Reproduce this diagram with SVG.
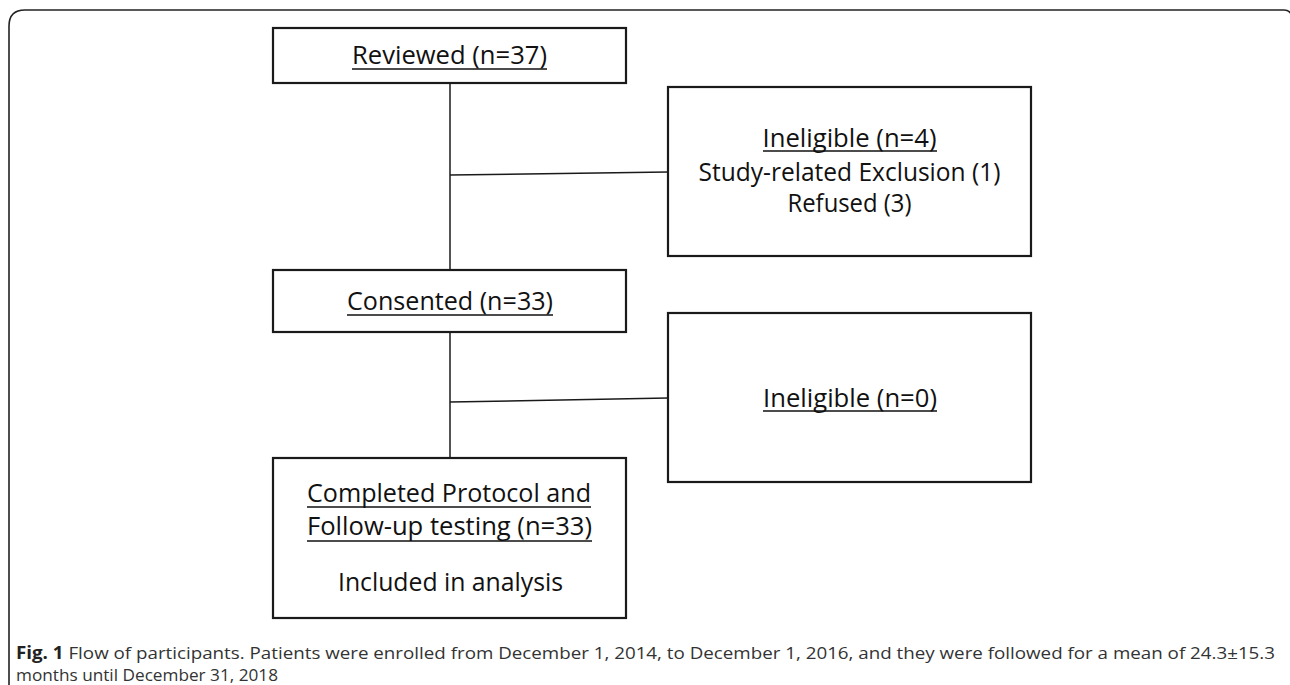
<svg xmlns="http://www.w3.org/2000/svg" width="1290" height="685" viewBox="0 0 1290 685">
<style>
.box{fill:#fff;stroke:#1a1a1a;stroke-width:2.2}
.con{fill:none;stroke:#1a1a1a;stroke-width:1.5}
.ul{stroke:#111;stroke-width:1.6}
.t{font-family:"Open Sans","Noto Sans",sans-serif;font-size:25px;fill:#111;text-anchor:middle}
.cap{font-family:"Open Sans","Liberation Sans",sans-serif;font-size:17px;fill:#333}
</style>
<rect width="1290" height="685" fill="#fff"/>
<path id="frame" d="M9,685 V26 Q9,10 25,10 H1284 Q1290,10 1292,16" fill="none" stroke="#222" stroke-width="1.6"/>
<g id="connectors">
<line class="con" x1="450" y1="83" x2="450" y2="270"/>
<line class="con" x1="450" y1="175" x2="668" y2="172"/>
<line class="con" x1="450" y1="332" x2="450" y2="458"/>
<line class="con" x1="450" y1="402" x2="668" y2="398"/>
</g>
<g id="reviewed">
<rect class="box" x="273" y="28" width="353" height="55"/>
<text class="t" x="449.5" y="64" textLength="195" lengthAdjust="spacingAndGlyphs">Reviewed (n=37)</text>
<line class="ul" x1="352" y1="69" x2="547" y2="69"/>
</g>
<g id="ineligible1">
<rect class="box" x="668" y="87" width="363" height="169"/>
<text class="t" x="849.5" y="147" font-size="22" textLength="174" lengthAdjust="spacingAndGlyphs">Ineligible (n=4)</text>
<line class="ul" x1="763" y1="151" x2="937" y2="151"/>
<text class="t" x="849.5" y="181" font-size="22" textLength="302" lengthAdjust="spacingAndGlyphs">Study-related Exclusion (1)</text>
<text class="t" x="849.5" y="212" font-size="22" textLength="124" lengthAdjust="spacingAndGlyphs">Refused (3)</text>
</g>
<g id="consented">
<rect class="box" x="273" y="270" width="353" height="62"/>
<text class="t" x="450" y="310" textLength="206" lengthAdjust="spacingAndGlyphs">Consented (n=33)</text>
<line class="ul" x1="347" y1="315" x2="553" y2="315"/>
</g>
<g id="ineligible2">
<rect class="box" x="668" y="313" width="363" height="169"/>
<text class="t" x="850" y="407" font-size="23" textLength="174" lengthAdjust="spacingAndGlyphs">Ineligible (n=0)</text>
<line class="ul" x1="763" y1="411" x2="937" y2="411"/>
</g>
<g id="completed">
<rect class="box" x="273" y="458" width="353" height="160"/>
<text class="t" x="449" y="502" textLength="284" lengthAdjust="spacingAndGlyphs">Completed Protocol and</text>
<line class="ul" x1="307" y1="507" x2="591" y2="507"/>
<text class="t" x="449.5" y="535" textLength="285" lengthAdjust="spacingAndGlyphs">Follow-up testing (n=33)</text>
<line class="ul" x1="307" y1="541" x2="592" y2="541"/>
<text class="t" x="450.5" y="591" font-size="23" textLength="225" lengthAdjust="spacingAndGlyphs">Included in analysis</text>
</g>
<g id="caption">
<text class="cap" x="16" y="659" textLength="1259" lengthAdjust="spacingAndGlyphs"><tspan font-weight="bold" fill="#222">Fig. 1</tspan> Flow of participants. Patients were enrolled from December 1, 2014, to December 1, 2016, and they were followed for a mean of 24.3±15.3</text>
<text class="cap" x="16" y="681" textLength="262" lengthAdjust="spacingAndGlyphs">months until December 31, 2018</text>
</g>
</svg>
